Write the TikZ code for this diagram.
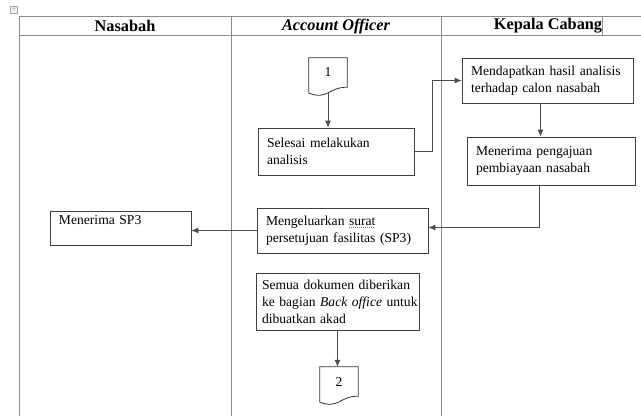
\documentclass[tikz,border=0pt]{standalone}
\usepackage{fontspec}
\setmainfont{Liberation Serif}
\usepackage{tikz}
\usetikzlibrary{arrows.meta}

\newcommand{\isi}{\fontsize{13.6}{17}\selectfont\hyphenpenalty=10000}
\newcommand{\judul}{\fontsize{16.3}{19}\selectfont\bfseries}
\newcommand{\ejaan}[1]{\setbox0\hbox{#1}\rlap{\color{blue!60}\leaders\hbox to 2pt{\vrule height -2.2pt depth 2.9pt width 1.2pt\hfil}\hskip\wd0}\box0}

\begin{document}
\begin{tikzpicture}[x=1pt,y=-1pt]

	\tikzset{garis/.style = {draw=black!45,line width=0.7pt}}
	\tikzset{kotak/.style = {shape=rectangle,draw=black!75,line width=0.8pt,align=left,inner xsep=9pt,inner ysep=2pt,font=\isi}}
	\tikzset{dokumen/.style = {shape=rectangle,minimum width=38pt,minimum height=29pt,inner sep=0pt,font=\isi}}
	\tikzset{edge/.style = {-{Latex[length=7pt,width=6pt]},draw=black!70,line width=0.8pt}}

	\useasboundingbox (0,0) rectangle (641,416);

	% tabel swimlane
	\draw[garis] (19,16) -- (641,16);
	\draw[garis] (19,35) -- (641,35);
	\foreach \x in {19,231,441}
		\draw[garis] (\x,16) -- (\x,416);
	\draw[garis] (602,16) -- (602,35);
	\node[draw=black!35,fill=black!5,minimum size=7pt,inner sep=0pt,text=black!50,font=\fontsize{7}{7}\selectfont] (pegangan) at (14,10) {+};

	\node (nasabah) at (125,26) {\judul Nasabah};
	\node (ao) at (336,26) {\judul\itshape Account Officer};
	\node (kacab) at (548,26) {\judul Kepala Cabang};

	% alur
	\node[dokumen] (dok1) at (328,72.5) {1};
	\node[kotak,text width=138pt,minimum height=47pt] (selesai) at (336,151.5) {Selesai melakukan\\analisis};
	\node[kotak,text width=153pt,minimum height=45pt] (dapat) at (547.5,80.5) {Mendapatkan hasil analisis\\terhadap calon nasabah};
	\node[kotak,text width=150pt,minimum height=48pt] (terima) at (551,161) {Menerima pengajuan\\pembiayaan nasabah};
	\node[kotak,text width=153pt,minimum height=45pt] (keluar) at (342.5,230.5) {Mengeluarkan \ejaan{surat}\\persetujuan fasilitas (SP3)};
	\node[kotak,text width=123pt,minimum height=34pt,inner ysep=0pt] (sp3) at (120.5,228) {Menerima SP3\\\mbox{}};
	\node[kotak,text width=151pt,inner xsep=6pt,minimum height=57pt] (semua) at (337.5,301.5) {Semua dokumen diberikan\\\mbox{ke bagian \textit{Back office} untuk}\\dibuatkan akad};
	\node[dokumen] (dok2) at (339,381.5) {2};

	% bentuk dokumen
	\foreach \d in {dok1,dok2}
		\draw[draw=black!80,line width=0.8pt] ([yshift=-6pt]\d.south west) -- (\d.north west) -- (\d.north east) -- (\d.south east)
			.. controls +(-19,0) and +(19,7) .. ([yshift=-6pt]\d.south west);

	\draw[edge] ([yshift=-5.5pt]dok1.south) -- (dok1.south |- selesai.north);
	\draw[edge] (selesai.east) -- ([xshift=18pt]selesai.east) |- (dapat.west);
	\draw[edge] ([xshift=-7pt]dapat.south) -- ([xshift=-7pt]dapat.south |- terima.north);
	\draw[edge] ([xshift=-12pt]terima.south) |- ([yshift=3pt]keluar.east);
	\draw[edge] (keluar.west) -- (keluar.west -| sp3.east);
	\draw[edge] (semua.south) -- (semua.south |- dok2.north);
\end{tikzpicture}
\end{document}
